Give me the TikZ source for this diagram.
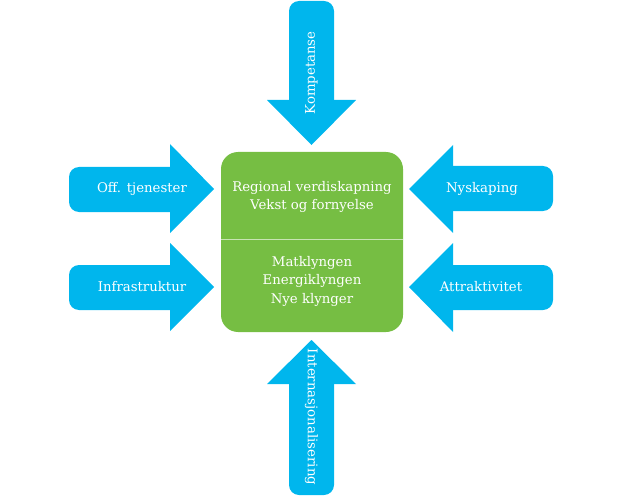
\documentclass[tikz,border=0pt]{standalone}
\usepackage{fontspec}
\setmainfont{DejaVu Serif}
\definecolor{arrowblue}{RGB}{0,182,237}
\definecolor{boxgreen}{RGB}{118,190,67}
\definecolor{divider}{RGB}{200,228,180}
\begin{document}
\begin{tikzpicture}[x=1pt,y=-1pt,
  lbl/.style={text=white,font=\fontsize{13.3}{18.5}\selectfont,inner sep=0pt,align=center},
  blk/.style={fill=arrowblue},
  tailbox/.style={fill=arrowblue,rounded corners=10pt}]
\useasboundingbox (0,0) rectangle (640,500);
% green box
\fill[boxgreen,rounded corners=17pt] (221,152) rectangle (403,332);
\draw[divider,line width=1pt] (221,239) -- (403,239);
% top arrow (down)
\fill[tailbox] (289,1) rectangle (334,120);
\fill[blk] (267,100) -- (356,100) -- (311.5,145) -- cycle;
% bottom arrow (up)
\fill[tailbox] (289,365) rectangle (334,495);
\fill[blk] (267,384) -- (356,384) -- (311.5,340) -- cycle;
% left arrows
\fill[tailbox] (69,167) rectangle (190,212);
\fill[blk] (170,144) -- (214,189) -- (170,233) -- cycle;
\fill[tailbox] (69,265) rectangle (190,310);
\fill[blk] (170,243) -- (214,287) -- (170,331) -- cycle;
% right arrows
\fill[tailbox] (433,166) rectangle (553,211);
\fill[blk] (453,145) -- (409,189) -- (453,233) -- cycle;
\fill[tailbox] (433,265) rectangle (553,310);
\fill[blk] (453,243) -- (409,287) -- (453,332) -- cycle;
% labels
\node[lbl] (komp) at (311.5,73) [rotate=90] {Kompetanse};
\node[lbl] (intl) at (311.5,417) [rotate=-90] {Internasjonalisering};
\node[lbl] (off) at (142,189) {Off. tjenester};
\node[lbl] (infra) at (142,287) {Infrastruktur};
\node[lbl] (nysk) at (482,189) {Nyskaping};
\node[lbl] (attr) at (481,287) {Attraktivitet};
\node[lbl] (reg) at (312,197) {Regional verdiskapning\\Vekst og fornyelse};
\node[lbl] (klynge) at (312,281) {Matklyngen\\Energiklyngen\\Nye klynger};
\end{tikzpicture}
\end{document}
